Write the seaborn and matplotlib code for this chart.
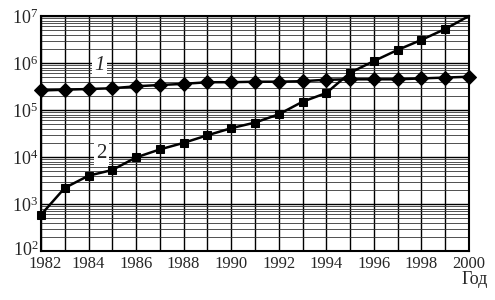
import numpy as np
import pandas as pd
import matplotlib
matplotlib.use("Agg")
import matplotlib.pyplot as plt
import matplotlib.transforms as mtransforms
import seaborn as sns
from matplotlib.ticker import LogLocator, FixedLocator

years = list(range(1982, 2001))
series1 = [2.6e5, 2.7e5, 2.8e5, 2.9e5, 3.2e5, 3.4e5, 3.6e5, 3.9e5, 3.9e5, 4.0e5,
           4.0e5, 4.1e5, 4.4e5, 4.5e5, 4.5e5, 4.5e5, 4.7e5, 4.9e5, 5.1e5]
series2 = [5.9e2, 2.2e3, 4.0e3, 5.3e3, 9.8e3, 1.45e4, 2.0e4, 2.9e4, 4.1e4, 5.4e4,
           8.1e4, 1.5e5, 2.3e5, 6.2e5, 1.1e6, 1.9e6, 3.1e6, 5.3e6, 1.0e7]
xticks = list(range(1982, 2001, 2))
yticks_exp = [2, 3, 4, 5, 6, 7]
series_labels = ["1", "2"]
xlabel = "Год"

sns.set_style("white")
plt.rcParams['font.family'] = ['Liberation Serif', 'DejaVu Serif']
plt.rcParams['mathtext.fontset'] = 'custom'
plt.rcParams['mathtext.rm'] = 'Liberation Serif'
plt.rcParams['mathtext.it'] = 'Liberation Serif:italic'

df1 = pd.DataFrame({"year": years, "value": series1})
df2 = pd.DataFrame({"year": years, "value": series2})

fig = plt.figure(figsize=(4.95, 3.0), dpi=100)
ax = fig.add_axes([41/495, 49/300, 428/495, 235/300])
ax.set_yscale("log")
ax.set_xlim(1982, 2000)
ax.set_ylim(1e2, 1e7)

# grid
ax.xaxis.set_major_locator(FixedLocator(years))
ax.yaxis.set_major_locator(LogLocator(base=10, numticks=10))
ax.yaxis.set_minor_locator(LogLocator(base=10, subs=np.arange(2, 10), numticks=20))
ax.grid(True, which="major", axis="both", color="black", lw=1.0)
ax.grid(True, which="minor", axis="y", color="#333333", lw=0.6)
ax.set_axisbelow(True)

sns.lineplot(data=df1, x="year", y="value", ax=ax, color="black", lw=1.8,
             marker="D", markersize=7, markeredgecolor="black", clip_on=False, zorder=5)
sns.lineplot(data=df2, x="year", y="value", ax=ax, color="black", lw=1.8,
             marker="s", markersize=6, markeredgecolor="black",
             markevery=list(range(len(years) - 1)), clip_on=False, zorder=5)

ax.set_xticks(years)
ax.set_xticklabels([str(y) if y in xticks else "" for y in years], fontsize=12)
ax.set_yticks([10.0**e for e in yticks_exp])
ax.set_yticklabels([f"$10^{{{e}}}$" for e in yticks_exp], fontsize=13)
ax.tick_params(axis="x", which="both", length=0, pad=3.5)
ax.tick_params(axis="y", which="both", length=0, pad=2)
ax.set_xlabel("")
ax.set_ylabel("")
for s in ax.spines.values():
    s.set_visible(True)
    s.set_color("black")
    s.set_linewidth(1.5)

# nudge the lowest y label up and the first year label right so they don't collide
lowlab = ax.get_yticklabels()[0]
lowlab.set_transform(lowlab.get_transform() +
                     mtransforms.ScaledTranslation(0, 3/100, fig.dpi_scale_trans))
firstx = ax.get_xticklabels()[0]
firstx.set_transform(firstx.get_transform() +
                     mtransforms.ScaledTranslation(4/100, 0, fig.dpi_scale_trans))

ax.text(1984.45, 8.7e5, series_labels[0], fontsize=15, style="italic", ha="center", va="center",
        bbox=dict(facecolor="white", edgecolor="none", pad=1.5), zorder=6)
ax.text(1984.55, 1.2e4, series_labels[1], fontsize=15, ha="center", va="center",
        bbox=dict(facecolor="white", edgecolor="none", pad=1.5), zorder=6)

fig.text(488/495, 1 - 280/300, xlabel, fontsize=13, ha="right", va="center")

fig.savefig("out.png", dpi=100)
